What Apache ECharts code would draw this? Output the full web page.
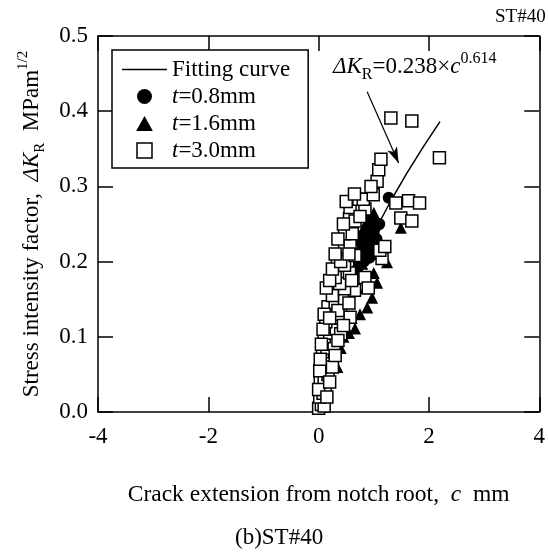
<!DOCTYPE html>
<html><head><meta charset="utf-8">
<script src="https://cdn.jsdelivr.net/npm/echarts@6/dist/echarts.min.js"></script>
<style>html,body{margin:0;padding:0;background:#fff}#c{width:548px;height:553px}</style>
</head><body><div id="c"></div>
<script>
// ---- data ----
const xTicks = [-4, -2, 0, 2, 4];
const yTicks = [0.0, 0.1, 0.2, 0.3, 0.4, 0.5];
const seriesNames = ['Fitting curve', 't=0.8mm', 't=1.6mm', 't=3.0mm'];
// fitting curve ΔK = 0.238 × c^0.614
const fitCurve = [[0,0],[0.02,0.0215],[0.05,0.0378],[0.1,0.0579],[0.2,0.0886],[0.3,0.1136],[0.5,0.1555],[0.7,0.1912],[1.0,0.238],[1.3,0.2796],[1.6,0.3176],[1.9,0.353],[2.2,0.3862]];
const arrowFrom = [0.88, 0.426];
const arrowTo = [1.45, 0.331];
const t08 = [[0.02,0.01],[0.06,0.03],[0.1,0.05],[0.15,0.07],[0.2,0.09],[0.25,0.1],[0.27,0.11],[0.35,0.13],[0.4,0.14],[0.45,0.15],[0.5,0.16],[0.55,0.17],[0.62,0.18],[0.7,0.19],
 [0.73,0.197],[0.75,0.2],[0.82,0.2],[0.7,0.21],[0.79,0.215],[0.9,0.215],[0.84,0.228],[0.78,0.225],[0.8,0.235],[0.9,0.22],[1.0,0.22],[0.95,0.23],[1.05,0.23],
 [0.88,0.245],[0.85,0.24],[0.95,0.245],[1.0,0.24],[1.06,0.248],[1.1,0.25],[0.9,0.255],[0.85,0.21],[0.92,0.205],[0.97,0.255],[1.27,0.285]];
const t16 = [[0.03,0.01],[0.08,0.03],[0.14,0.05],[0.22,0.07],[0.34,0.06],[0.3,0.09],[0.4,0.085],[0.45,0.1],[0.55,0.105],[0.66,0.111],[0.6,0.125],[0.75,0.13],[0.88,0.139],[0.97,0.152],[0.85,0.165],[1.06,0.172],[0.79,0.197],[1.24,0.199],[1.0,0.185],[1.1,0.21],[0.9,0.23],[1.0,0.265],[1.49,0.245]];
const t30 = [[0.0,0.005],[0.05,0.01],[0.1,0.008],[0.02,0.02],[0.08,0.025],[0.12,0.03],[0.03,0.04],[0.1,0.045],[0.17,0.05],
 [0.05,0.06],[0.12,0.065],[0.22,0.07],[0.07,0.08],[0.15,0.085],[0.28,0.09],[0.1,0.1],[0.2,0.105],[0.32,0.11],[0.4,0.104],
 [0.13,0.12],[0.25,0.125],[0.4,0.13],[0.57,0.126],[0.17,0.14],[0.3,0.145],[0.47,0.15],[0.25,0.155],[0.65,0.162],[0.47,0.164],
 [0.38,0.171],[0.3,0.179],[0.56,0.185],[0.84,0.179],[0.34,0.197],[0.47,0.195],[0.66,0.208],[1.15,0.204],[0.47,0.219],
 [0.57,0.225],[1.11,0.215],[0.47,0.237],[0.61,0.237],[0.56,0.257],[0.66,0.254],[0.57,0.272],[0.84,0.270],
 [0.73,0.283],[0.81,0.283],[0.99,0.289],[1.06,0.307],[1.09,0.322],[1.13,0.336],[1.31,0.391],[1.69,0.387],[2.19,0.338],
 [1.40,0.278],[1.63,0.281],[1.83,0.278],[1.49,0.258],[1.69,0.254],
 [0.0,0.03],[0.02,0.055],[0.15,0.02],[0.2,0.04],[0.25,0.06],[0.3,0.075],[0.35,0.095],[0.45,0.115],[0.03,0.07],[0.05,0.09],
 [0.08,0.11],[0.1,0.13],[0.35,0.135],[0.55,0.145],[0.2,0.125],[0.14,0.165],[0.2,0.175],[0.6,0.175],[0.9,0.165],[0.25,0.19],
 [0.4,0.2],[0.3,0.21],[0.55,0.21],[0.35,0.23],[1.2,0.22],[0.45,0.25],[0.75,0.26],
 [0.5,0.28],[0.65,0.29],[0.95,0.3]];

const FONT = "'Liberation Serif','Times New Roman',serif";
const chart = echarts.init(document.getElementById('c'), null, {renderer:'canvas'});
const axisLine = {show:true, onZero:false, lineStyle:{color:'#000', width:1.5}};
const tick = {show:true, inside:true, length:15, lineStyle:{color:'#000', width:1.5}};
const xBase = {type:'value', min:xTicks[0], max:xTicks[xTicks.length-1], interval:xTicks[1]-xTicks[0], splitLine:{show:false}, axisLine, axisTick:tick};
const yBase = {type:'value', min:yTicks[0], max:yTicks[yTicks.length-1], interval:0.1, splitLine:{show:false}, axisLine, axisTick:tick};
const legendText = n => n.startsWith('t=') ? '{i|t}' + n.slice(1) : n;

chart.setOption({
  animation:false,
  backgroundColor:'#fff',
  grid:{left:98, right:4, top:36, bottom:141},
  xAxis:[
    Object.assign({}, xBase, {position:'bottom',
      axisLabel:{color:'#000', fontFamily:FONT, fontSize:23, margin:13},
      name:'Crack extension from notch root,  {i|c}  mm', nameLocation:'middle', nameGap:71,
      nameTextStyle:{color:'#000', fontFamily:FONT, fontSize:23.5, rich:{i:{fontStyle:'italic', fontFamily:FONT, fontSize:23.5}}}}),
    Object.assign({}, xBase, {position:'top', axisLabel:{show:false}})
  ],
  yAxis:[
    Object.assign({}, yBase, {position:'left',
      axisLabel:{color:'#000', fontFamily:FONT, fontSize:23, margin:10, formatter:v=>v.toFixed(1)},
      name:'Stress intensity factor,  {i|ΔK}{sub|R}  MPam{sup|1/2}', nameLocation:'middle', nameGap:50, nameRotate:90,
      nameTextStyle:{color:'#000', fontFamily:FONT, fontSize:23, lineHeight:32, rich:{
        i:{fontStyle:'italic', fontFamily:FONT, fontSize:23, lineHeight:32, color:'#000'},
        sub:{fontFamily:FONT, fontSize:15, lineHeight:15, verticalAlign:'bottom', color:'#000'},
        sup:{fontFamily:FONT, fontSize:15, lineHeight:15, verticalAlign:'top', color:'#000'}}}}),
    Object.assign({}, yBase, {position:'right', axisLabel:{show:false}})
  ],
  legend:{
    orient:'vertical', left:112, top:50, padding:[8,18,6,10], itemGap:4, itemWidth:45, itemHeight:15,
    borderColor:'#000', borderWidth:1.5, backgroundColor:'#fff',
    data:[
      {name:seriesNames[0], icon:'path://M0,0L45,0L45,1.5L0,1.5Z', itemStyle:{color:'#000', borderWidth:0}},
      {name:seriesNames[1], icon:'circle', itemStyle:{color:'#000', opacity:1}},
      {name:seriesNames[2], icon:'path://M5,0L10,9L0,9Z', itemStyle:{color:'#000', opacity:1}},
      {name:seriesNames[3], icon:'path://M0,0L10,0L10,10L0,10Z', itemStyle:{color:'#fff', borderColor:'#000', borderWidth:1.5, opacity:1}}
    ],
    formatter:legendText,
    textStyle:{color:'#000', fontFamily:FONT, fontSize:23, rich:{i:{fontStyle:'italic', fontFamily:FONT, fontSize:23, color:'#000'}}}
  },
  graphic:[
    {type:'text', left:495, top:8, style:{text:'ST#40', font:'19px '+FONT, fill:'#000'}},
    {type:'text', left:235, top:526, style:{text:'(b)ST#40', font:'23px '+FONT, fill:'#000'}},
    {type:'text', left:333, top:51, style:{
      text:'{i|ΔK}{sub|R}{n|=0.238×}{i|c}{sup|0.614}',
      rich:{
        i:{fontStyle:'italic', fontFamily:FONT, fontSize:23, lineHeight:32, verticalAlign:'middle', fill:'#000'},
        n:{fontFamily:FONT, fontSize:23, lineHeight:32, verticalAlign:'middle', fill:'#000'},
        sub:{fontFamily:FONT, fontSize:16, lineHeight:16, verticalAlign:'bottom', fill:'#000'},
        sup:{fontFamily:FONT, fontSize:16, lineHeight:16, verticalAlign:'top', fill:'#000'}
      }}}
  ],
  series:[
    {name:seriesNames[0], type:'line', data:fitCurve, symbol:'none', showSymbol:false, smooth:false, z:2,
     lineStyle:{color:'#000', width:1.5}, itemStyle:{color:'#000'},
     markLine:{silent:true, symbol:['none','arrow'], symbolSize:[8,16], label:{show:false},
       lineStyle:{color:'#000', width:1.2, type:'solid'},
       data:[[{coord:arrowFrom}, {coord:arrowTo}]]}},
    {name:seriesNames[1], type:'scatter', data:t08, symbol:'circle', symbolSize:12, z:3, itemStyle:{color:'#000', opacity:1}},
    {name:seriesNames[2], type:'scatter', data:t16, symbol:'triangle', symbolSize:12, z:3, itemStyle:{color:'#000', opacity:1}},
    {name:seriesNames[3], type:'scatter', data:t30, symbol:'rect', symbolSize:12, z:4, itemStyle:{color:'#fff', borderColor:'#000', borderWidth:1.5, opacity:1}}
  ]
});
</script></body></html>
